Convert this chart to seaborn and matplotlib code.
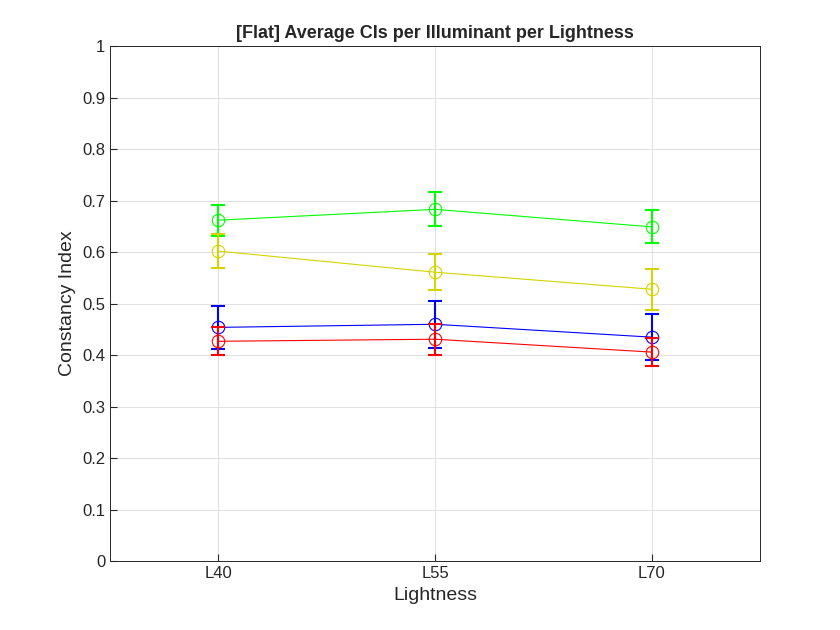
import matplotlib
matplotlib.use("Agg")
import matplotlib.pyplot as plt
import seaborn as sns
import pandas as pd

categories = ["L40", "L55", "L70"]
series_names = ["green", "yellow", "blue", "red"]
green_vals = [0.662, 0.683, 0.649]
green_err = [0.030, 0.033, 0.032]
yellow_vals = [0.602, 0.561, 0.528]
yellow_err = [0.033, 0.035, 0.040]
blue_vals = [0.454, 0.460, 0.435]
blue_err = [0.042, 0.046, 0.045]
red_vals = [0.427, 0.431, 0.406]
red_err = [0.027, 0.030, 0.027]

colors = {"green": "#00ff00", "yellow": "#d4d400", "blue": "#0000ff", "red": "#ff0000"}
vals = {"green": green_vals, "yellow": yellow_vals, "blue": blue_vals, "red": red_vals}
errs = {"green": green_err, "yellow": yellow_err, "blue": blue_err, "red": red_err}

sns.set_style("white")
plt.rcParams['font.family'] = ['Arial', 'Liberation Sans', 'DejaVu Sans']

fig, ax = plt.subplots(figsize=(8.4, 6.3), dpi=100)
fig.subplots_adjust(left=0.131, right=0.905, top=0.927, bottom=0.109)

xs = [1, 2, 3]
for name in series_names:
    df = pd.DataFrame({"x": xs, "y": vals[name]})
    sns.lineplot(data=df, x="x", y="y", ax=ax, color=colors[name], lw=0.8,
                 marker="o", markersize=9, markerfacecolor="none",
                 markeredgecolor=colors[name], markeredgewidth=0.8)
    ax.errorbar(xs, vals[name], yerr=errs[name], fmt="none", ecolor=colors[name],
                elinewidth=1.5, capsize=5, capthick=1.5)

ax.set_xlim(0.5, 3.5)
ax.set_ylim(0, 1)
ax.set_xticks(xs)
ax.set_xticklabels(categories)
ax.set_yticks([i / 10 for i in range(11)])
ax.set_yticklabels(["0"] + [f"{i/10:.1f}" for i in range(1, 10)] + ["1"])
ax.grid(True, color="#e0e0e0", lw=0.7)
ax.tick_params(labelsize=12, colors="#262626", direction="in", length=5, left=True, bottom=True)
for s in ax.spines.values():
    s.set_color("#262626"); s.set_linewidth(0.7)
ax.set_xlabel("Lightness", fontsize=14, color="#262626")
ax.set_ylabel("Constancy Index", fontsize=14, color="#262626")
ax.set_title("[Flat] Average CIs per Illuminant per Lightness", fontsize=13, fontweight="bold")
fig.savefig("out.png", dpi=100)
